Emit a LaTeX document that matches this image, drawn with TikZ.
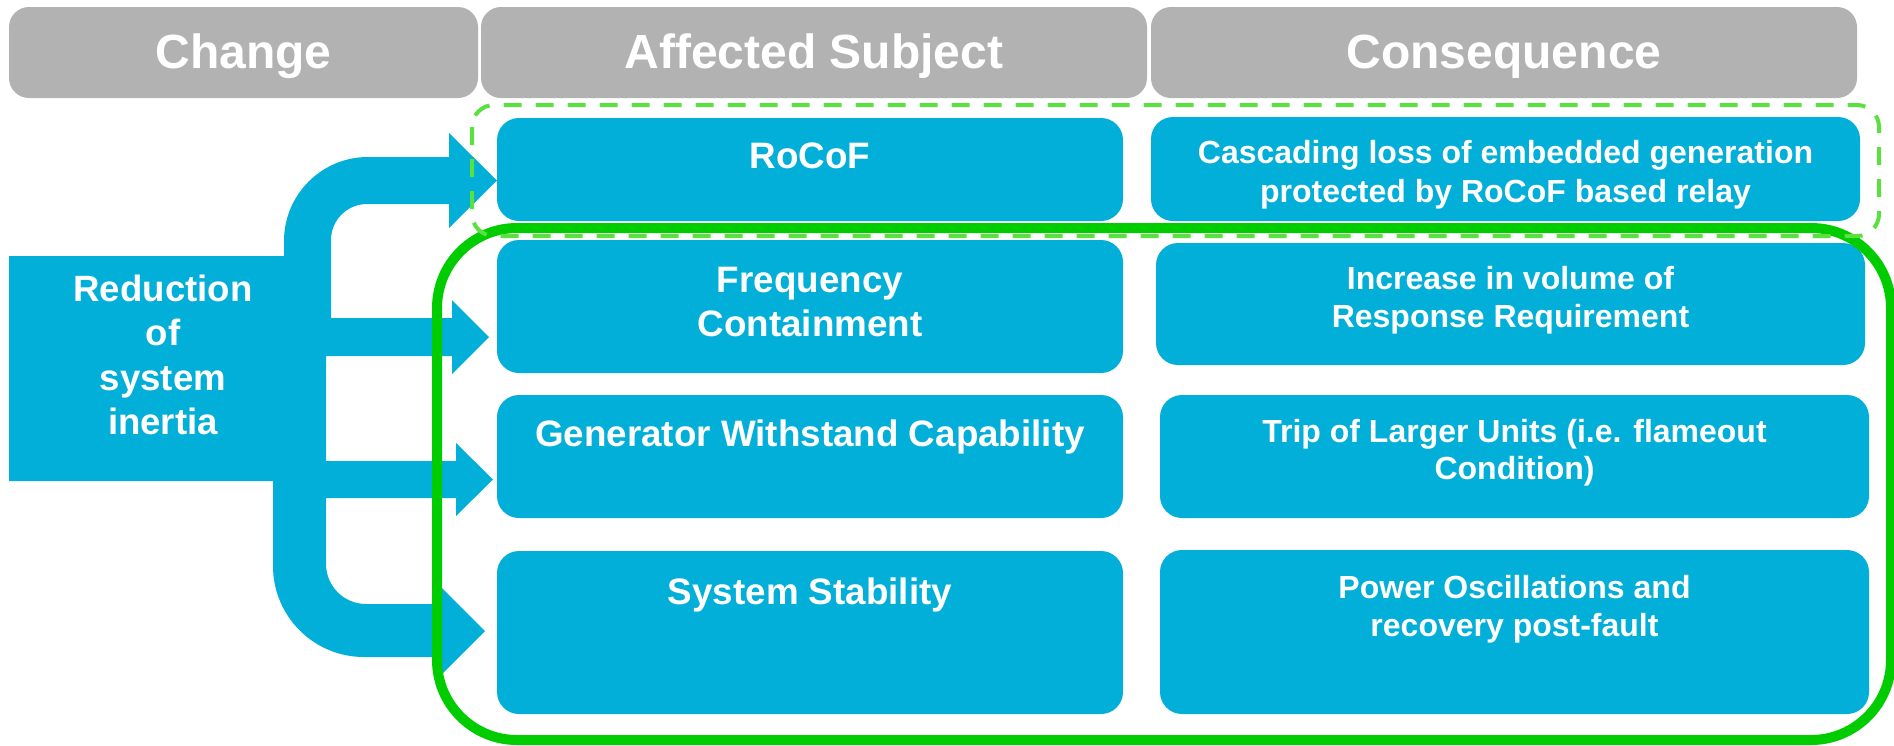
\documentclass[tikz,border=0pt]{standalone}
\usepackage{fontspec}
\setmainfont{Liberation Sans}
\definecolor{hdrgray}{RGB}{178,178,178}
\definecolor{cellblue}{RGB}{2,175,216}
\definecolor{groupgreen}{RGB}{0,204,0}
\definecolor{rocofgreen}{RGB}{90,224,64}
% centred lines in a box whose baseline is that of its first line
\newcommand\stacked[2]{\vtop{\baselineskip=#1\lineskiplimit=-100pt\lineskip=0pt\halign{\hfil##\hfil\cr#2\crcr}}}
\begin{document}
\begin{tikzpicture}[x=1pt,y=-1pt,
  hdr/.style={fill=hdrgray,rounded corners=20pt,inner sep=0pt,draw=none},
  cell/.style={fill=cellblue,rounded corners=22pt,inner sep=0pt,draw=none},
  hdrtext/.style={text=white,anchor=base,inner sep=0pt,font=\fontsize{48}{52}\selectfont\bfseries},
  subjtext/.style={text=white,anchor=base,inner sep=0pt,font=\fontsize{36.8}{44}\selectfont\bfseries},
  conseqtext/.style={text=white,anchor=base,inner sep=0pt,font=\fontsize{32}{38}\selectfont\bfseries},
  changetext/.style={text=white,anchor=base,inner sep=0pt,font=\fontsize{36.6}{44}\selectfont\bfseries}]
\useasboundingbox (0,0) rectangle (1894,745);

% column headers
\node[hdr,minimum width=469pt,minimum height=91pt] (hchange) at (243.5,52.5) {};
\node[hdr,minimum width=666pt,minimum height=91pt] (haffected) at (814,52.5) {};
\node[hdr,minimum width=706pt,minimum height=91pt] (hconseq) at (1504,52.5) {};
\node[hdrtext] (thchange) at (hchange.center |- 0,68) {Change};
\node[hdrtext] (thaffected) at (haffected.center |- 0,68) {Affected Subject};
\node[hdrtext] (thconseq) at (hconseq.center |- 0,68) {Consequence};

% change block with its branching arrows
\fill[cellblue]
  (9,256) -- (284,256) -- (284,241)
  .. controls (284,194.6) and (321.6,157) .. (368,157)
  -- (449,157) -- (449,133) -- (497,180.5) -- (449,228) -- (449,204)
  -- (367,204) .. controls (347.1,204) and (331,220.1) .. (331,240)
  -- (331,318) -- (452,318) -- (452,300) -- (489,337) -- (452,374) -- (452,356)
  -- (326,356) -- (326,461) -- (456,461) -- (456,443) -- (493,479.5) -- (456,516) -- (456,498)
  -- (326,498) -- (326,564)
  .. controls (326,586.1) and (343.9,604) .. (366,604)
  -- (437,604) -- (437,583) -- (485,631) -- (437,679) -- (437,657)
  -- (364,657) .. controls (313.7,657) and (273,616.3) .. (273,566)
  -- (273,481) -- (9,481) -- cycle;
\node[changetext] (reduction) at (163,301.5)
  {\stacked{44.3pt}{Reduction\cr of\cr system\cr inertia}};

% affected subjects
\node[cell,minimum width=626pt,minimum height=103pt] (rocof) at (810,169.5) {};
\node[cell,minimum width=626pt,minimum height=133pt] (freq) at (810,306.5) {};
\node[cell,minimum width=626pt,minimum height=123pt] (gen) at (810,456.5) {};
\node[cell,minimum width=626pt,minimum height=163pt] (stab) at (810,632.5) {};
\node[subjtext] (trocof) at (rocof.center |- 0,168) {RoCoF};
\node[subjtext] (tfreq) at (freq.center |- 0,292) {\stacked{44pt}{Frequency\cr Containment}};
\node[subjtext] (tgen) at (gen.center |- 0,446) {Generator Withstand Capability};
\node[subjtext] (tstab) at (stab.center |- 0,604) {System Stability};

% consequences
\node[cell,minimum width=709pt,minimum height=104pt] (casc) at (1505.5,169) {};
\node[cell,minimum width=709pt,minimum height=122pt] (incr) at (1510.5,304) {};
\node[cell,minimum width=709pt,minimum height=123pt] (trip) at (1514.5,456.5) {};
\node[cell,minimum width=709pt,minimum height=164pt] (power) at (1514.5,632) {};
\node[conseqtext] (tcasc) at (casc.center |- 0,163)
  {\stacked{39pt}{Cascading loss of embedded generation\cr protected by RoCoF based relay}};
\node[conseqtext] (tincr) at (incr.center |- 0,289)
  {\stacked{38pt}{Increase in volume of\cr Response Requirement}};
\node[conseqtext] (ttrip) at (trip.center |- 0,442)
  {\stacked{37pt}{Trip of Larger Units (i.e. flameout\cr Condition)}};
\node[conseqtext] (tpower) at (power.center |- 0,598)
  {\stacked{38pt}{Power Oscillations and\cr recovery post-fault}};

% grouping outlines
\draw[groupgreen,line width=10pt,rounded corners=80pt] (437,228) rectangle (1891,740);
\draw[rocofgreen,line width=4pt,rounded corners=22pt,dash pattern=on 18pt off 14pt] (472,105) rectangle (1879,236);
\end{tikzpicture}
\end{document}
